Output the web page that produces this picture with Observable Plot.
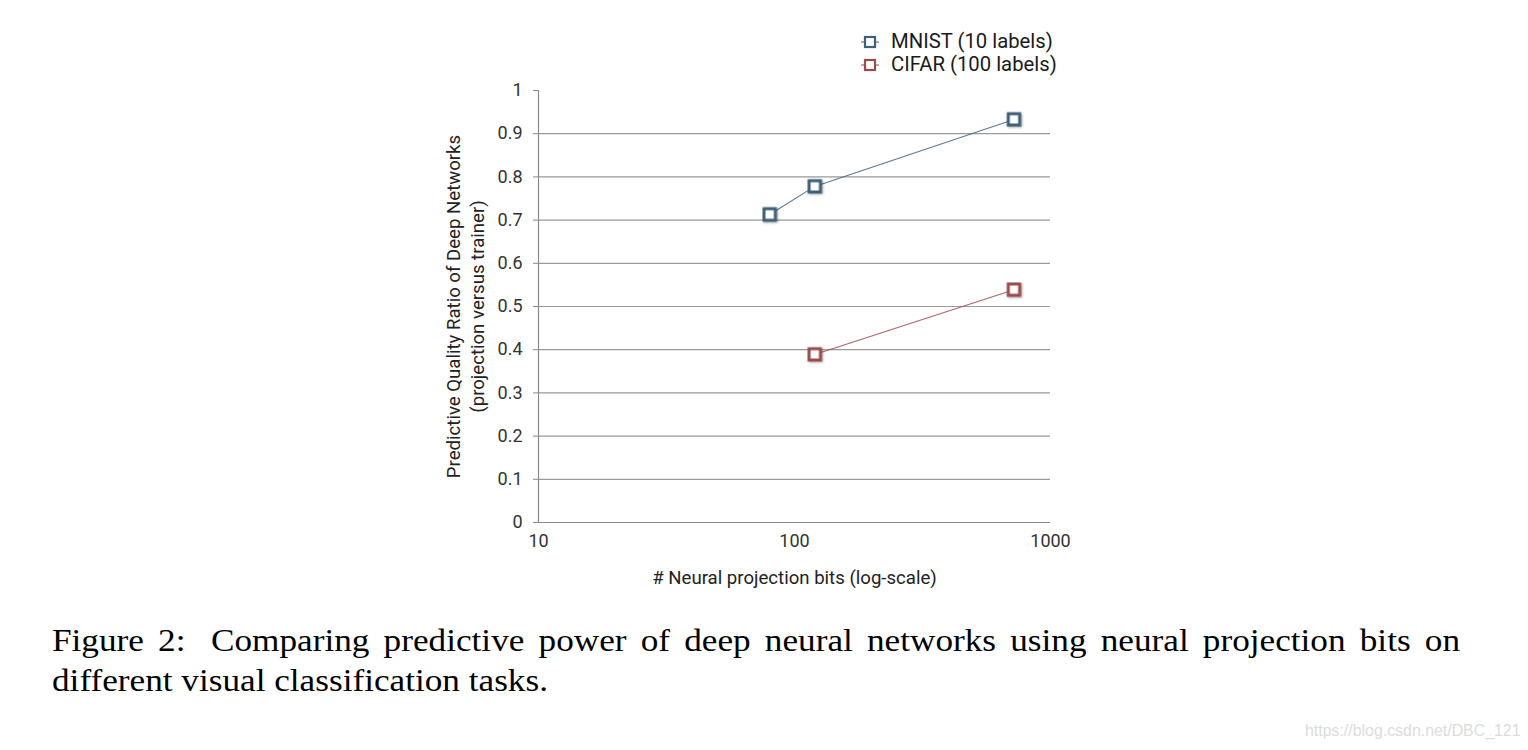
<!DOCTYPE html>
<html>
<head>
<meta charset="utf-8">
<script src="https://cdn.jsdelivr.net/npm/d3@7"></script>
<script src="https://cdn.jsdelivr.net/npm/@observablehq/plot@0.6"></script>
<style>
  html, body { margin: 0; padding: 0; background: #fff; }
  #wrap { position: relative; width: 1528px; height: 750px; overflow: hidden; }
  #chart { position: absolute; left: 0; top: 0; }
  #legend { position: absolute; left: 861px; top: 30px; font-family: Roboto, "Liberation Sans", sans-serif; font-size: 20.3px; color: #1a1a1a; line-height: 23px; }
  #legend .item { display: flex; align-items: center; }
  #legend svg { margin-right: 12px; }
  #caption { position: absolute; left: 52px; top: 621px; width: 1240px; font-family: "Liberation Serif", "Times New Roman", serif; font-size: 31px; line-height: 40px; color: #000; transform: scaleX(1.1355); transform-origin: 0 0; }
  #caption .l1 { text-align: justify; text-align-last: justify; }
  #caption .sp { display: inline-block; width: 10px; }
  #watermark { position: absolute; left: 1305px; top: 722px; font-family: "Liberation Sans", Arial, sans-serif; font-size: 15.9px; color: #dcdcdc; }
  #chart g[aria-label="dot"] { filter: drop-shadow(1px 1.5px 1px rgba(0,0,0,0.35)); }
</style>
</head>
<body>
<div id="wrap">
  <div id="chart"></div>
  <div id="legend"></div>
  <div id="caption"><div class="l1">Figure 2:<span class="sp"></span> Comparing predictive power of deep neural networks using neural projection bits on</div><div>different visual classification tasks.</div></div>
  <div id="watermark">https://blog.csdn.net/DBC_121</div>
</div>
<script>
// ---- data ----
const seriesNames = ["MNIST (10 labels)", "CIFAR (100 labels)"];
const seriesColors = ["#3f6079", "#9a4b4b"];
const mnistBits = [80, 120, 720];
const mnistRatio = [0.713, 0.778, 0.933];
const cifarBits = [120, 720];
const cifarRatio = [0.389, 0.539];
const xTicks = [10, 100, 1000];
const yTicks = [0, 0.1, 0.2, 0.3, 0.4, 0.5, 0.6, 0.7, 0.8, 0.9, 1];
const gridValues = [0.1, 0.2, 0.3, 0.4, 0.5, 0.6, 0.7, 0.8, 0.9];
const yTitle = "Predictive Quality Ratio of Deep Networks\n(projection versus trainer)";
const xTitle = "# Neural projection bits (log-scale)";

const data = [
  ...mnistBits.map((b, i) => ({series: seriesNames[0], bits: b, ratio: mnistRatio[i]})),
  ...cifarBits.map((b, i) => ({series: seriesNames[1], bits: b, ratio: cifarRatio[i]}))
];

const font = "Roboto, 'Liberation Sans', sans-serif";

const chart = Plot.plot({
  width: 1528,
  height: 600,
  marginLeft: 538,
  marginRight: 478,
  marginTop: 90,
  marginBottom: 78,
  style: { fontFamily: font, fontSize: "18px", color: "#333", background: "transparent" },
  x: { type: "log", domain: [10, 1000] },
  y: { domain: [0, 1] },
  color: { domain: seriesNames, range: seriesColors },
  marks: [
    Plot.ruleY(gridValues, { stroke: "#9a9a9a", strokeWidth: 1.2, strokeOpacity: 1 }),
    Plot.ruleY([0], { stroke: "#8a8a8a", strokeWidth: 1.2 }),
    Plot.ruleX([10], { stroke: "#8a8a8a", strokeWidth: 1.2 }),
    Plot.axisY({ ticks: yTicks, tickSize: 5, tickPadding: 11, tickFormat: d => String(d), label: null, stroke: "#8a8a8a", fill: "#333", fontSize: 18 }),
    Plot.axisX({ ticks: xTicks, tickSize: 0, tickPadding: 12, tickFormat: d => String(d), label: null, fill: "#333", fontSize: 18 }),
    Plot.text([yTitle], { frameAnchor: "left", rotate: -90, dx: -74.5, text: d => d, textAnchor: "middle", lineAnchor: "middle", lineHeight: 1.34, fontSize: 18.6, fill: "#222" }),
    Plot.text([xTitle], { frameAnchor: "bottom", dy: 56, text: d => d, textAnchor: "middle", lineAnchor: "middle", fontSize: 18.6, fill: "#222" }),
    Plot.line(data, { x: "bits", y: "ratio", z: "series", stroke: "series", strokeWidth: 1.1, strokeOpacity: 0.85 }),
    Plot.dot(data, { x: "bits", y: "ratio", stroke: "series", symbol: "square", r: 6.4, fill: "white", strokeWidth: 3 })
  ]
});
document.getElementById("chart").appendChild(chart);

// legend (HTML)
const legend = document.getElementById("legend");
seriesNames.forEach((name, i) => {
  const item = document.createElement("div");
  item.className = "item";
  item.innerHTML = `<svg width="18" height="14"><line x1="0" y1="7" x2="18" y2="7" stroke="${seriesColors[i]}" stroke-width="1"/><rect x="4" y="2" width="10" height="10" fill="white" stroke="${seriesColors[i]}" stroke-width="2.2"/></svg><span>${name}</span>`;
  legend.appendChild(item);
});
</script>
</body>
</html>
